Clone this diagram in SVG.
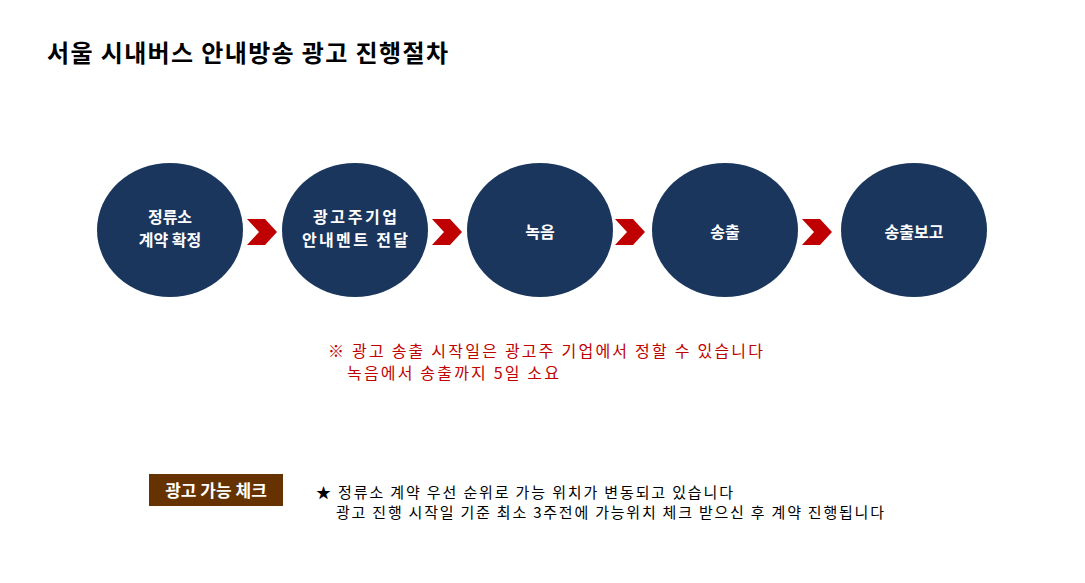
<svg xmlns="http://www.w3.org/2000/svg" width="1085" height="583" viewBox="0 0 1085 583">
<style>
.t{font-family:"Noto Sans CJK KR","Noto Sans",sans-serif}
.c{fill:#1a365d}
.w{fill:#fff;font-size:16px;font-weight:bold;text-anchor:middle}
.r{fill:#c00000;font-size:16px}
.k{fill:#000;font-size:15px}
.ch{fill:#c00000}
</style>
<rect width="1085" height="583" fill="#fff"/>
<text class="t" x="47" y="62" font-size="24" font-weight="bold" fill="#000" textLength="401" lengthAdjust="spacing">서울 시내버스 안내방송 광고 진행절차</text>
<g id="connectors">
<polygon class="ch" points="247,219 265,219 277,232 265,245 247,245 259,232"/>
<polygon class="ch" points="432,219 450,219 462,232 450,245 432,245 444,232"/>
<polygon class="ch" points="615,219 633,219 645,232 633,245 615,245 627,232"/>
<polygon class="ch" points="802,219 820,219 832,232 820,245 802,245 814,232"/>
</g>
<g id="n1"><ellipse class="c" cx="170" cy="230" rx="73" ry="67"/><text class="t w" x="170" y="223">정류소</text><text class="t w" x="170" y="246">계약 확정</text></g>
<g id="n2"><ellipse class="c" cx="355" cy="230" rx="73" ry="67"/><text class="t w" x="355" y="223" textLength="84" lengthAdjust="spacing">광고주기업</text><text class="t w" x="355" y="246" textLength="106" lengthAdjust="spacing">안내멘트 전달</text></g>
<g id="n3"><ellipse class="c" cx="540" cy="230" rx="73" ry="67"/><text class="t w" x="540" y="238">녹음</text></g>
<g id="n4"><ellipse class="c" cx="725" cy="230" rx="73" ry="67"/><text class="t w" x="725" y="238">송출</text></g>
<g id="n5"><ellipse class="c" cx="914" cy="230" rx="73" ry="67"/><text class="t w" x="914" y="238">송출보고</text></g>
<text class="t r" x="328" y="357" textLength="435" lengthAdjust="spacing">※ 광고 송출 시작일은 광고주 기업에서 정할 수 있습니다</text>
<text class="t r" x="347" y="379" textLength="212" lengthAdjust="spacing">녹음에서 송출까지 5일 소요</text>
<g id="badge"><rect x="149" y="474" width="134" height="32" fill="#663300"/><text class="t" x="216" y="497" font-size="17" font-weight="bold" fill="#fff" text-anchor="middle">광고 가능 체크</text></g>
<text class="t k" x="316" y="498" textLength="417" lengthAdjust="spacing">★ 정류소 계약 우선 순위로 가능 위치가 변동되고 있습니다</text>
<text class="t k" x="336" y="518" textLength="548" lengthAdjust="spacing">광고 진행 시작일 기준 최소 3주전에 가능위치 체크 받으신 후 계약 진행됩니다</text>
</svg>
